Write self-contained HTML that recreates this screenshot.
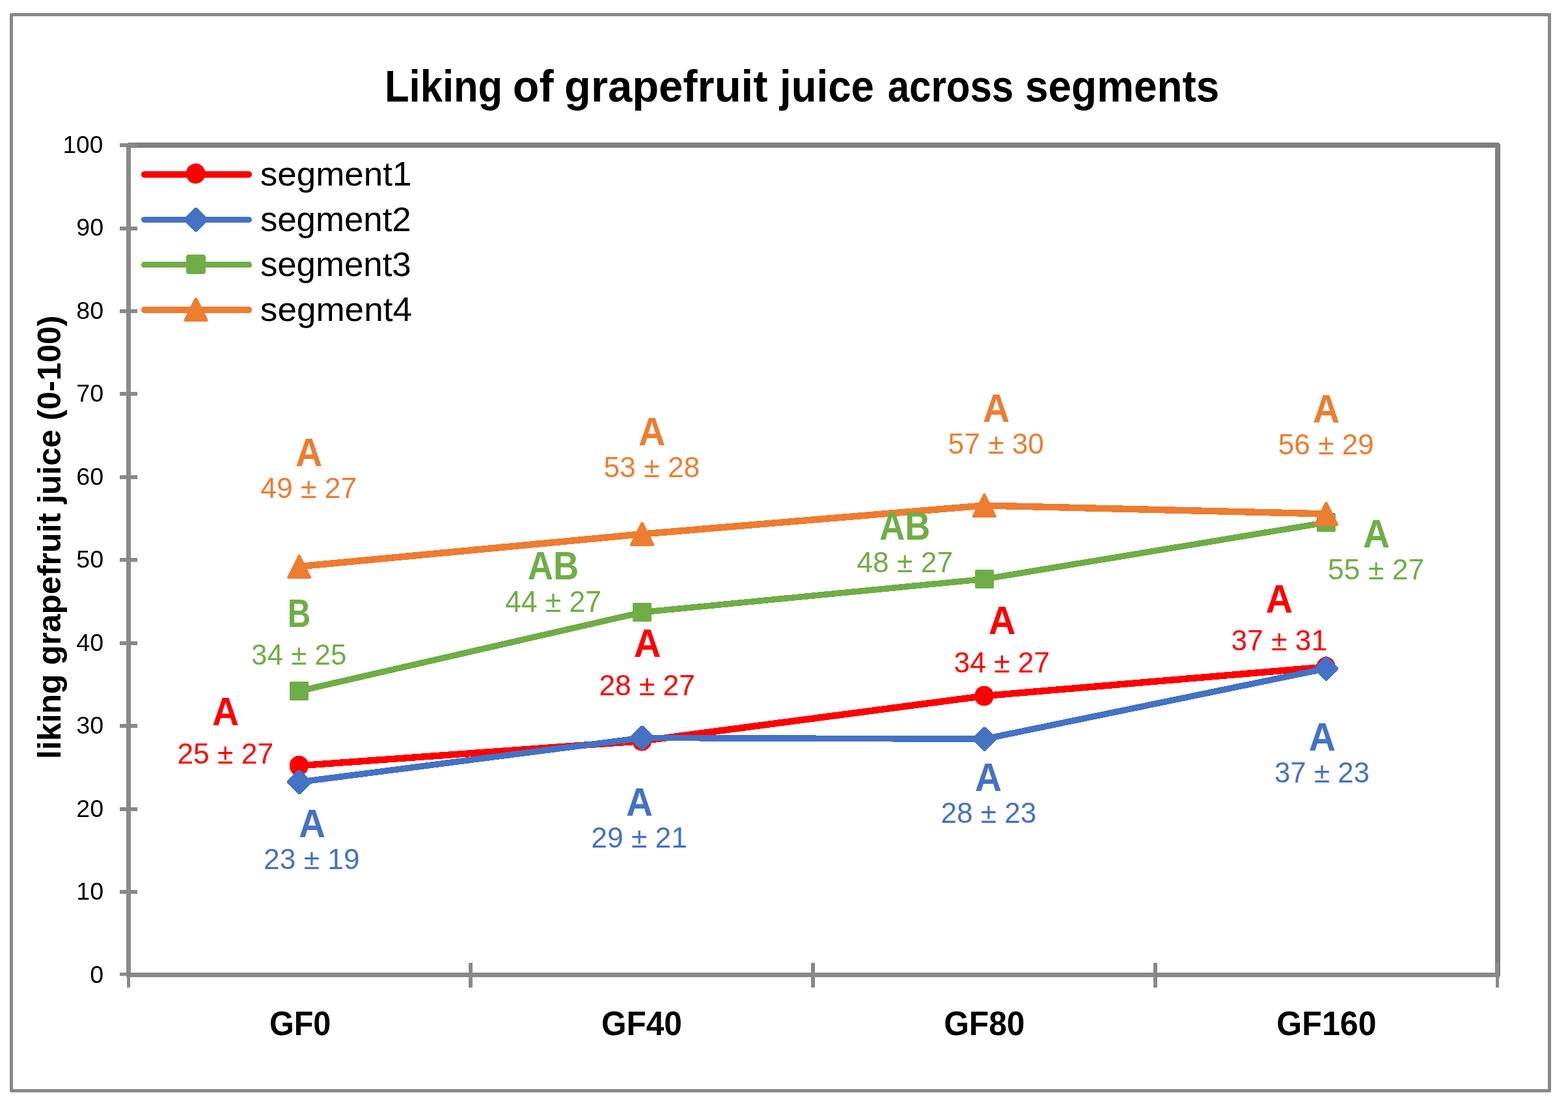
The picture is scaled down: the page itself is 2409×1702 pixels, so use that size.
<!DOCTYPE html>
<html lang="en">
<head>
<meta charset="utf-8">
<title>Liking of grapefruit juice across segments</title>
<style>
html,body{margin:0;padding:0;background:#fff;}
body{width:2409px;height:1702px;}
svg{display:block;}
text{font-family:"Liberation Sans",sans-serif;white-space:pre;}
</style>
</head>
<body>
<svg width="2409" height="1702" viewBox="0 0 2409 1702" role="img" aria-label="Liking of grapefruit juice across segments">
<rect x="0" y="0" width="2409" height="1702" fill="#ffffff"/>
<g shape-rendering="crispEdges">
<rect x="17.5" y="22.5" width="2363" height="1653" fill="none" stroke="#898989" stroke-width="5" stroke-linejoin="round"/>
<polyline points="199,223 2301,223 2301,1498" fill="none" stroke="#7F7F7F" stroke-width="8" stroke-linejoin="round" stroke-linecap="round"/>
<rect x="194" y="219.5" width="7" height="1281.5" fill="#898989"/>
<rect x="194" y="1494" width="2109" height="7" fill="#898989"/>
<rect x="184" y="1494" width="27" height="5" fill="#898989"/>
<rect x="184" y="1367" width="27" height="6" fill="#898989"/>
<rect x="184" y="1240" width="27" height="6" fill="#898989"/>
<rect x="184" y="1112" width="27" height="6" fill="#898989"/>
<rect x="184" y="985" width="27" height="6" fill="#898989"/>
<rect x="184" y="857" width="27" height="6" fill="#898989"/>
<rect x="184" y="730" width="27" height="6" fill="#898989"/>
<rect x="184" y="602" width="27" height="6" fill="#898989"/>
<rect x="184" y="475" width="27" height="6" fill="#898989"/>
<rect x="184" y="348" width="27" height="6" fill="#898989"/>
<rect x="184" y="220" width="27" height="6" fill="#898989"/>
<rect x="195" y="1479" width="5" height="38" fill="#898989"/>
<rect x="720" y="1479" width="6" height="38" fill="#898989"/>
<rect x="1246" y="1479" width="6" height="38" fill="#898989"/>
<rect x="1772" y="1479" width="6" height="38" fill="#898989"/>
<rect x="2298" y="1479" width="5" height="38" fill="#898989"/>
<polyline points="459.70,1176.20 986.50,1138.20 1512.40,1069.00 2037.50,1024.40" fill="none" stroke="#FF0000" stroke-width="10.3" stroke-linejoin="round" stroke-linecap="round"/>
<ellipse cx="459.30" cy="1176.20" rx="14.8" ry="15.4" fill="#FF0000"/>
<ellipse cx="986.10" cy="1138.20" rx="14.8" ry="15.4" fill="#FF0000"/>
<ellipse cx="1512.00" cy="1069.00" rx="14.8" ry="15.4" fill="#FF0000"/>
<ellipse cx="2037.10" cy="1024.40" rx="14.8" ry="15.4" fill="#FF0000"/>
<polyline points="459.70,1201.30 986.50,1133.40 1512.40,1135.20 2037.50,1026.90" fill="none" stroke="#4472C4" stroke-width="9.6" stroke-linejoin="round" stroke-linecap="round"/>
<polygon points="458.10,1182.70 461.30,1182.70 478.30,1199.70 478.30,1202.90 461.30,1219.90 458.10,1219.90 441.10,1202.90 441.10,1199.70" fill="#4472C4"/>
<polygon points="984.90,1114.80 988.10,1114.80 1005.10,1131.80 1005.10,1135.00 988.10,1152.00 984.90,1152.00 967.90,1135.00 967.90,1131.80" fill="#4472C4"/>
<polygon points="1510.80,1116.60 1514.00,1116.60 1531.00,1133.60 1531.00,1136.80 1514.00,1153.80 1510.80,1153.80 1493.80,1136.80 1493.80,1133.60" fill="#4472C4"/>
<polygon points="2035.90,1008.30 2039.10,1008.30 2056.10,1025.30 2056.10,1028.50 2039.10,1045.50 2035.90,1045.50 2018.90,1028.50 2018.90,1025.30" fill="#4472C4"/>
<polyline points="459.70,1061.50 986.50,940.50 1512.40,889.50 2037.50,802.60" fill="none" stroke="#70AD47" stroke-width="9.5" stroke-linejoin="round" stroke-linecap="round"/>
<polygon points="446.60,1046.80 472.80,1046.80 474.40,1048.40 474.40,1074.60 472.80,1076.20 446.60,1076.20 445.00,1074.60 445.00,1048.40" fill="#70AD47"/>
<polygon points="973.40,925.80 999.60,925.80 1001.20,927.40 1001.20,953.60 999.60,955.20 973.40,955.20 971.80,953.60 971.80,927.40" fill="#70AD47"/>
<polygon points="1499.30,874.80 1525.50,874.80 1527.10,876.40 1527.10,902.60 1525.50,904.20 1499.30,904.20 1497.70,902.60 1497.70,876.40" fill="#70AD47"/>
<polygon points="2024.40,787.90 2050.60,787.90 2052.20,789.50 2052.20,815.70 2050.60,817.30 2024.40,817.30 2022.80,815.70 2022.80,789.50" fill="#70AD47"/>
<polyline points="459.70,870.20 986.50,820.40 1512.40,776.50 2037.50,789.40" fill="none" stroke="#ED7D31" stroke-width="10.4" stroke-linejoin="round" stroke-linecap="round"/>
<polygon points="459.70,853.70 476.20,886.70 443.20,886.70" fill="#ED7D31" stroke="#ED7D31" stroke-width="4" stroke-linejoin="round"/>
<polygon points="986.50,803.90 1003.00,836.90 970.00,836.90" fill="#ED7D31" stroke="#ED7D31" stroke-width="4" stroke-linejoin="round"/>
<polygon points="1512.40,760.00 1528.90,793.00 1495.90,793.00" fill="#ED7D31" stroke="#ED7D31" stroke-width="4" stroke-linejoin="round"/>
<polygon points="2037.50,772.90 2054.00,805.90 2021.00,805.90" fill="#ED7D31" stroke="#ED7D31" stroke-width="4" stroke-linejoin="round"/>
<line x1="222.0" y1="268.0" x2="382.0" y2="268.0" stroke="#FF0000" stroke-width="10.0" stroke-linecap="round"/>
<ellipse cx="300.60" cy="266.60" rx="14.8" ry="15.4" fill="#FF0000"/>
<line x1="221.5" y1="337.5" x2="382.5" y2="337.5" stroke="#4472C4" stroke-width="9.0" stroke-linecap="round"/>
<polygon points="299.40,318.90 302.60,318.90 319.60,335.90 319.60,339.10 302.60,356.10 299.40,356.10 282.40,339.10 282.40,335.90" fill="#4472C4"/>
<line x1="221.6" y1="406.6" x2="382.4" y2="406.6" stroke="#70AD47" stroke-width="9.2" stroke-linecap="round"/>
<polygon points="287.90,391.30 314.10,391.30 315.70,392.90 315.70,419.10 314.10,420.70 287.90,420.70 286.30,419.10 286.30,392.90" fill="#70AD47"/>
<line x1="222.0" y1="476.0" x2="382.0" y2="476.0" stroke="#ED7D31" stroke-width="10.0" stroke-linecap="round"/>
<polygon points="301.00,458.90 317.50,491.90 284.50,491.90" fill="#ED7D31" stroke="#ED7D31" stroke-width="4" stroke-linejoin="round"/>
</g>
<g>
<text y="155.60" font-size="68.60" font-weight="bold" fill="#000"><tspan x="590.95" textLength="181.29" lengthAdjust="spacingAndGlyphs">Liking</tspan> <tspan x="787.83" textLength="62.66" lengthAdjust="spacingAndGlyphs">of</tspan> <tspan x="867.11" textLength="312.32" lengthAdjust="spacingAndGlyphs">grapefruit</tspan> <tspan x="1197.99" textLength="144.89" lengthAdjust="spacingAndGlyphs">juice</tspan> <tspan x="1363.76" textLength="193.47" lengthAdjust="spacingAndGlyphs">across</tspan> <tspan x="1575.00" textLength="298.39" lengthAdjust="spacingAndGlyphs">segments</tspan></text>
<text transform="translate(399.87 285.00) scale(1.0286 1)" font-size="51.48" font-weight="normal" fill="#000">segment1</text>
<text transform="translate(399.88 354.60) scale(1.0255 1)" font-size="51.48" font-weight="normal" fill="#000">segment2</text>
<text transform="translate(399.88 424.00) scale(1.0255 1)" font-size="51.48" font-weight="normal" fill="#000">segment3</text>
<text transform="translate(399.87 493.20) scale(1.0312 1)" font-size="51.48" font-weight="normal" fill="#000">segment4</text>
<text transform="translate(138.24 1509.81) scale(1.0000 1)" font-size="37.57" font-weight="normal" fill="#000">0</text>
<text transform="translate(117.35 1382.29) scale(1.0000 1)" font-size="37.57" font-weight="normal" fill="#000">10</text>
<text transform="translate(117.35 1254.77) scale(1.0000 1)" font-size="37.57" font-weight="normal" fill="#000">20</text>
<text transform="translate(117.35 1127.25) scale(1.0000 1)" font-size="37.57" font-weight="normal" fill="#000">30</text>
<text transform="translate(117.35 999.73) scale(1.0000 1)" font-size="37.57" font-weight="normal" fill="#000">40</text>
<text transform="translate(117.35 872.21) scale(1.0000 1)" font-size="37.57" font-weight="normal" fill="#000">50</text>
<text transform="translate(117.35 744.69) scale(1.0000 1)" font-size="37.57" font-weight="normal" fill="#000">60</text>
<text transform="translate(117.35 617.17) scale(1.0000 1)" font-size="37.57" font-weight="normal" fill="#000">70</text>
<text transform="translate(117.35 489.65) scale(1.0000 1)" font-size="37.57" font-weight="normal" fill="#000">80</text>
<text transform="translate(117.35 362.13) scale(1.0000 1)" font-size="37.57" font-weight="normal" fill="#000">90</text>
<text transform="translate(96.49 234.61) scale(0.9850 1)" font-size="37.57" font-weight="normal" fill="#000">100</text>
<text transform="translate(413.88 1590.00) scale(0.9515 1)" font-size="51.06" font-weight="bold" fill="#000">GF0</text>
<text transform="translate(924.05 1590.00) scale(0.9691 1)" font-size="51.06" font-weight="bold" fill="#000">GF40</text>
<text transform="translate(1450.15 1590.00) scale(0.9739 1)" font-size="51.06" font-weight="bold" fill="#000">GF80</text>
<text transform="translate(1961.33 1590.00) scale(0.9814 1)" font-size="51.06" font-weight="bold" fill="#000">GF160</text>
<text transform="translate(454.01 715.90) scale(0.9347 1)" font-size="61.16" font-weight="bold" fill="#ED7D31">A</text>
<text transform="translate(400.31 765.40) scale(0.9985 1)" font-size="44.52" font-weight="normal" fill="#ED7D31">49 ± 27</text>
<text transform="translate(441.83 962.70) scale(0.8032 1)" font-size="61.16" font-weight="bold" fill="#70AD47">B</text>
<text transform="translate(386.03 1021.20) scale(0.9874 1)" font-size="44.52" font-weight="normal" fill="#70AD47">34 ± 25</text>
<text transform="translate(325.91 1114.10) scale(0.9347 1)" font-size="61.16" font-weight="bold" fill="#FF0000">A</text>
<text transform="translate(272.42 1172.60) scale(0.9964 1)" font-size="44.52" font-weight="normal" fill="#FF0000">25 ± 27</text>
<text transform="translate(459.01 1286.20) scale(0.9300 1)" font-size="61.16" font-weight="bold" fill="#4472C4">A</text>
<text transform="translate(405.12 1335.30) scale(0.9957 1)" font-size="44.52" font-weight="normal" fill="#4472C4">23 ± 19</text>
<text transform="translate(981.01 683.80) scale(0.9347 1)" font-size="61.16" font-weight="bold" fill="#ED7D31">A</text>
<text transform="translate(927.41 733.20) scale(0.9978 1)" font-size="44.52" font-weight="normal" fill="#ED7D31">53 ± 28</text>
<text transform="translate(810.85 890.00) scale(0.8879 1)" font-size="61.16" font-weight="bold" fill="#70AD47">AB</text>
<text transform="translate(775.90 940.10) scale(0.9781 1)" font-size="45.51" font-weight="normal" fill="#70AD47">44 ± 27</text>
<text transform="translate(973.70 1009.10) scale(0.9442 1)" font-size="61.16" font-weight="bold" fill="#FF0000">A</text>
<text transform="translate(920.42 1067.50) scale(0.9950 1)" font-size="44.52" font-weight="normal" fill="#FF0000">28 ± 27</text>
<text transform="translate(962.01 1253.00) scale(0.9300 1)" font-size="61.16" font-weight="bold" fill="#4472C4">A</text>
<text transform="translate(908.32 1302.10) scale(0.9964 1)" font-size="44.52" font-weight="normal" fill="#4472C4">29 ± 21</text>
<text transform="translate(1510.01 647.90) scale(0.9347 1)" font-size="61.16" font-weight="bold" fill="#ED7D31">A</text>
<text transform="translate(1456.62 697.40) scale(0.9944 1)" font-size="44.52" font-weight="normal" fill="#ED7D31">57 ± 30</text>
<text transform="translate(1351.16 828.80) scale(0.8832 1)" font-size="61.16" font-weight="bold" fill="#70AD47">AB</text>
<text transform="translate(1316.21 878.60) scale(0.9985 1)" font-size="44.52" font-weight="normal" fill="#70AD47">48 ± 27</text>
<text transform="translate(1518.80 974.10) scale(0.9442 1)" font-size="61.16" font-weight="bold" fill="#FF0000">A</text>
<text transform="translate(1465.62 1032.50) scale(0.9943 1)" font-size="44.52" font-weight="normal" fill="#FF0000">34 ± 27</text>
<text transform="translate(1497.81 1214.70) scale(0.9347 1)" font-size="61.16" font-weight="bold" fill="#4472C4">A</text>
<text transform="translate(1445.43 1264.20) scale(0.9922 1)" font-size="44.52" font-weight="normal" fill="#4472C4">28 ± 23</text>
<text transform="translate(2016.91 649.00) scale(0.9347 1)" font-size="61.16" font-weight="bold" fill="#ED7D31">A</text>
<text transform="translate(1963.82 698.00) scale(0.9916 1)" font-size="44.52" font-weight="normal" fill="#ED7D31">56 ± 29</text>
<text transform="translate(2093.91 840.70) scale(0.9347 1)" font-size="61.16" font-weight="bold" fill="#70AD47">A</text>
<text transform="translate(2040.11 890.10) scale(0.9992 1)" font-size="44.52" font-weight="normal" fill="#70AD47">55 ± 27</text>
<text transform="translate(1944.81 941.00) scale(0.9347 1)" font-size="61.16" font-weight="bold" fill="#FF0000">A</text>
<text transform="translate(1891.62 999.20) scale(0.9950 1)" font-size="44.52" font-weight="normal" fill="#FF0000">37 ± 31</text>
<text transform="translate(2010.71 1152.90) scale(0.9347 1)" font-size="61.16" font-weight="bold" fill="#4472C4">A</text>
<text transform="translate(1957.93 1202.40) scale(0.9874 1)" font-size="44.52" font-weight="normal" fill="#4472C4">37 ± 23</text>
<text transform="translate(93.00 1166.03) rotate(-90) scale(1.0074 1)" font-size="49.70" font-weight="bold" fill="#000">liking grapefruit juice (0-100)</text>
</g>
</svg>
</body>
</html>
